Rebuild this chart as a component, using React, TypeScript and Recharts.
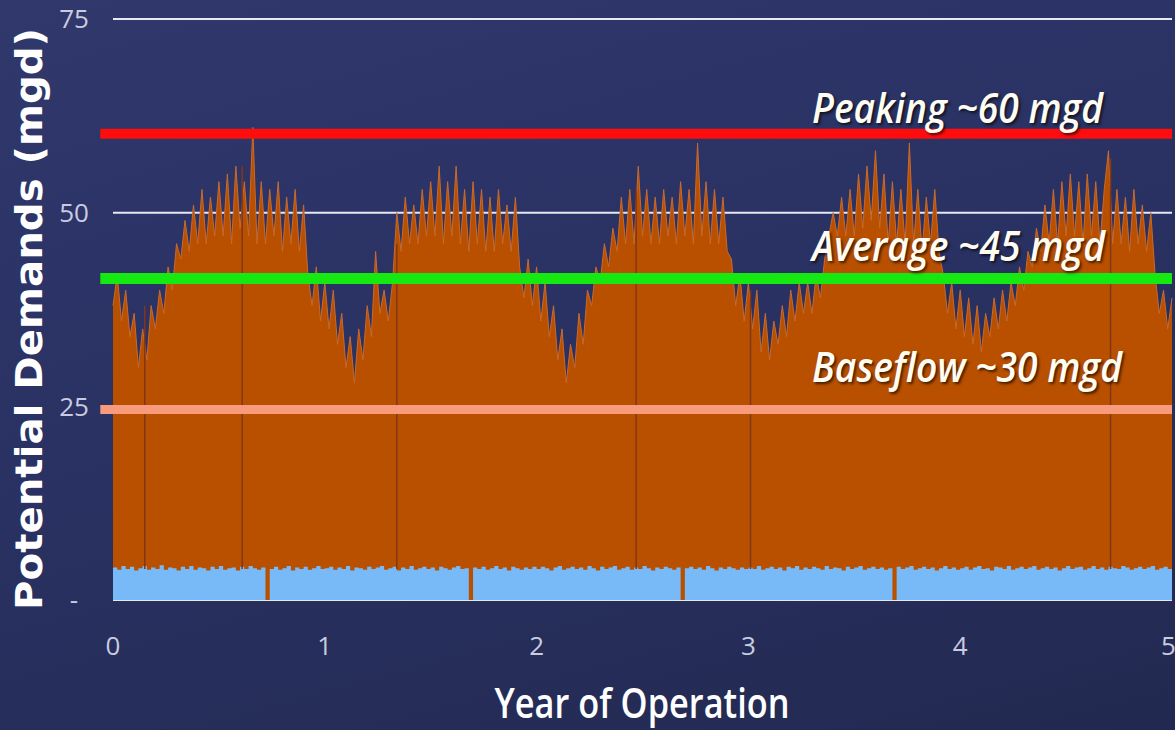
import { ComposedChart, Area, XAxis, YAxis, CartesianGrid, ReferenceLine } from 'recharts';

// one value every 0.02 year (about a week)
const STEP = 0.02;

const demandYear1 = [
  38, 42, 36, 40, 34, 37, 30, 35, 31, 38,
  35, 40, 37, 43, 40, 46, 44, 49, 45, 51,
  46, 53, 46, 52, 47, 54, 47, 55, 46, 56,
  48, 54, 47, 61, 46, 54, 46, 53, 47, 54,
  45, 52, 46, 53, 45, 51, 42, 38, 43, 36,
];
const demandYear2 = [
  41, 35, 40, 33, 37, 30, 34, 28, 35, 31,
  38, 34, 45, 37, 40, 36, 41, 50, 45, 52,
  46, 51, 46, 53, 47, 54, 47, 56, 46, 54,
  47, 56, 46, 53, 45, 54, 46, 53, 45, 52,
  45, 53, 46, 51, 45, 52, 43, 39, 44, 38,
];
const demandYear3 = [
  43, 36, 41, 34, 38, 31, 35, 28, 33, 30,
  37, 33, 40, 38, 43, 41, 46, 43, 48, 45,
  52, 46, 53, 46, 56, 47, 53, 46, 52, 46,
  53, 47, 52, 46, 54, 47, 53, 46, 59, 47,
  54, 46, 53, 46, 52, 45, 44, 38, 42, 36,
];
const demandYear4 = [
  41, 35, 40, 32, 37, 31, 36, 33, 38, 34,
  40, 36, 41, 37, 41, 37, 42, 39, 44, 47,
  50, 47, 52, 47, 53, 47, 55, 48, 56, 49,
  58, 48, 55, 46, 54, 46, 53, 46, 59, 46,
  53, 45, 52, 46, 53, 45, 42, 37, 41, 35,
];
const demandYear5 = [
  40, 34, 39, 33, 38, 32, 37, 34, 39, 35,
  40, 36, 41, 38, 43, 40, 45, 43, 48, 45,
  51, 46, 53, 46, 54, 47, 55, 47, 54, 46,
  55, 47, 54, 46, 53, 58, 46, 53, 46, 52,
  45, 53, 46, 51, 45, 50, 42, 37, 40, 35,
  39,
];

// baseline (light blue) demand, zeros are the short shutdowns
const baseYear1 = [
  4.2, 3.9, 4.4, 4.0, 4.3, 3.8, 4.1, 4.4, 3.9, 4.2,
  4.0, 4.5, 3.9, 4.2, 4.1, 3.8, 4.3, 4.0, 4.4, 3.9,
  4.2, 4.1, 3.8, 4.3, 4.0, 4.4, 3.9, 4.1, 4.2, 3.8,
  4.3, 4.0, 4.4, 4.1, 3.9, 4.2, 0, 4.0, 4.3, 3.9,
  4.1, 4.4, 3.8, 4.2, 4.0, 4.3, 3.9, 4.1, 4.4, 4.0,
];
const baseYear2 = [
  4.1, 4.3, 3.9, 4.2, 4.0, 4.4, 3.8, 4.2, 4.1, 3.9,
  4.3, 4.0, 4.2, 4.4, 3.9, 4.1, 4.3, 3.8, 4.2, 4.0,
  4.4, 3.9, 4.1, 4.3, 4.0, 4.2, 3.8, 4.3, 4.1, 3.9,
  4.2, 4.4, 4.0, 4.1, 0, 4.2, 4.0, 4.3, 3.9, 4.1,
  4.4, 4.0, 4.2, 3.8, 4.3, 4.1, 3.9, 4.2, 4.0, 4.3,
];
const baseYear3 = [
  4.0, 4.3, 4.1, 3.8, 4.2, 4.4, 3.9, 4.1, 4.3, 4.0,
  4.2, 3.9, 4.4, 4.1, 3.8, 4.3, 4.0, 4.2, 4.4, 3.9,
  4.1, 4.3, 3.9, 4.2, 4.0, 4.4, 4.1, 3.8, 4.2, 4.0,
  4.3, 4.1, 3.9, 4.2, 0, 4.1, 4.3, 4.0, 4.2, 3.9,
  4.4, 4.1, 3.8, 4.2, 4.0, 4.3, 4.1, 3.9, 4.2, 4.0,
];
const baseYear4 = [
  4.2, 4.0, 4.4, 3.9, 4.1, 4.3, 4.0, 4.2, 3.8, 4.3,
  4.1, 4.4, 3.9, 4.2, 4.0, 4.3, 4.1, 3.9, 4.4, 4.0,
  4.2, 4.1, 3.8, 4.3, 4.0, 4.2, 4.4, 3.9, 4.1, 4.3,
  4.0, 4.2, 3.9, 4.1, 0, 4.3, 4.0, 4.2, 4.4, 3.9,
  4.1, 4.3, 4.0, 4.2, 3.8, 4.1, 4.4, 4.0, 4.2, 3.9,
];
const baseYear5 = [
  4.1, 4.3, 3.9, 4.2, 4.4, 4.0, 4.1, 3.8, 4.3, 4.2,
  4.0, 4.4, 3.9, 4.1, 4.3, 4.0, 4.2, 4.4, 3.9, 4.1,
  4.3, 4.0, 4.2, 3.8, 4.1, 4.4, 4.0, 4.2, 4.3, 3.9,
  4.1, 4.4, 4.0, 4.2, 3.9, 4.3, 4.1, 4.0, 4.4, 4.2,
  3.9, 4.1, 4.3, 4.0, 4.2, 4.4, 3.9, 4.1, 4.3, 4.0,
  4.2,
];

// single low days that show as dark hairlines through the orange
const dropoutYears = [0.15, 0.61, 1.34, 2.47, 3.01, 4.71];
const dropoutTops = [38, 56, 46, 53, 40, 57];

const xTicks = [0, 1, 2, 3, 4, 5];
const yTicks = [0, 25, 50, 75];

const levelValues = [60.2, 41.5, 24.6];
const levelNames = ['Peaking ~60 mgd', 'Average ~45 mgd', 'Baseflow ~30 mgd'];
const levelColors = ['#ff0d0d', '#16e812', '#f89a7c'];
const levelWidths = [10, 11, 9];
const levelLabelDy = [-11, -18, -27];
const levelLabelLength = [291, 293, 310];

const demand = [...demandYear1, ...demandYear2, ...demandYear3, ...demandYear4, ...demandYear5];
const base = [...baseYear1, ...baseYear2, ...baseYear3, ...baseYear4, ...baseYear5];

const rows = demand.map((d, i) => ({
  year: +(i * STEP).toFixed(2),
  demand: d,
  base: base[i],
}));

const tickFont = "'Liberation Sans Narrow', 'Open Sans', sans-serif";

const LevelLabel = ({ viewBox, text, dy, length }: any) => {
  if (!viewBox) return null;
  return (
    <text
      x={812}
      y={viewBox.y + dy}
      fill="#fffdf2"
      fontFamily="'Open Sans', sans-serif"
      fontStyle="italic"
      fontWeight={600}
      fontSize={42}
      textLength={length}
      lengthAdjust="spacingAndGlyphs"
      style={{ textShadow: '2px 2px 3px rgba(0,0,0,0.65)' }}
    >
      {text}
    </text>
  );
};

const XTitle = () => (
  <text
    x={642}
    y={718}
    textAnchor="middle"
    fill="#ffffff"
    fontFamily="'Open Sans', sans-serif"
    fontWeight={600}
    fontSize={42}
    textLength={295}
    lengthAdjust="spacingAndGlyphs"
  >
    Year of Operation
  </text>
);

const YTitle = () => (
  <text
    transform="translate(42,319) rotate(-90)"
    textAnchor="middle"
    fill="#ffffff"
    fontFamily="'DejaVu Sans', sans-serif"
    fontWeight={700}
    fontSize={38}
    textLength={582}
    lengthAdjust="spacingAndGlyphs"
  >
    Potential Demands (mgd)
  </text>
);

export default function App() {
  return (
    <div
      style={{
        position: 'fixed',
        left: 0,
        top: 0,
        width: 1175,
        height: 730,
        overflow: 'hidden',
        background: 'linear-gradient(165deg, #30386c 0%, #2a3264 45%, #222950 100%)',
      }}
    >
      <style>{'body{margin:0}'}</style>
      <ComposedChart
        width={1175}
        height={730}
        data={rows}
        margin={{ top: 19, right: 3, bottom: 0, left: 0 }}
      >
        <CartesianGrid horizontal vertical={false} stroke="#e6e8f2" strokeWidth={2} />
        <XAxis
          dataKey="year"
          type="number"
          domain={[0, 5]}
          ticks={xTicks}
          height={130}
          axisLine={false}
          tickLine={false}
          tickSize={30}
          tickMargin={7}
          tick={{ fill: '#c9cce0', fontSize: 26, fontFamily: tickFont }}
          label={{ content: XTitle }}
        />
        <YAxis
          domain={[0, 75]}
          ticks={yTicks}
          width={113}
          axisLine={false}
          tickLine={false}
          tickSize={20}
          tickMargin={19}
          tick={{ fill: '#c9cce0', fontSize: 26, fontFamily: tickFont, textAnchor: 'middle' }}
          tickFormatter={(v: number) => (v === 0 ? '-' : String(v))}
          label={{ content: YTitle }}
        />
        <Area
          type="linear"
          dataKey="demand"
          fill="#b95000"
          fillOpacity={1}
          stroke="#c96a2c"
          strokeWidth={1}
          isAnimationActive={false}
        />
        {dropoutYears.map((yr, i) => (
          <ReferenceLine
            key={yr}
            segment={[{ x: yr, y: 4 }, { x: yr, y: dropoutTops[i] }]}
            stroke="#82361a"
            strokeWidth={1.5}
          />
        ))}
        <Area
          type="stepAfter"
          dataKey="base"
          fill="#78b9f8"
          fillOpacity={1}
          stroke="none"
          isAnimationActive={false}
        />
        {levelValues.map((v, i) => (
          <ReferenceLine
            key={levelNames[i]}
            segment={[{ x: -0.06, y: v }, { x: 5, y: v }]}
            ifOverflow="visible"
            stroke={levelColors[i]}
            strokeWidth={levelWidths[i]}
            label={(props: any) => (
              <LevelLabel
                {...props}
                text={levelNames[i]}
                dy={levelLabelDy[i]}
                length={levelLabelLength[i]}
              />
            )}
          />
        ))}
      </ComposedChart>
    </div>
  );
}
